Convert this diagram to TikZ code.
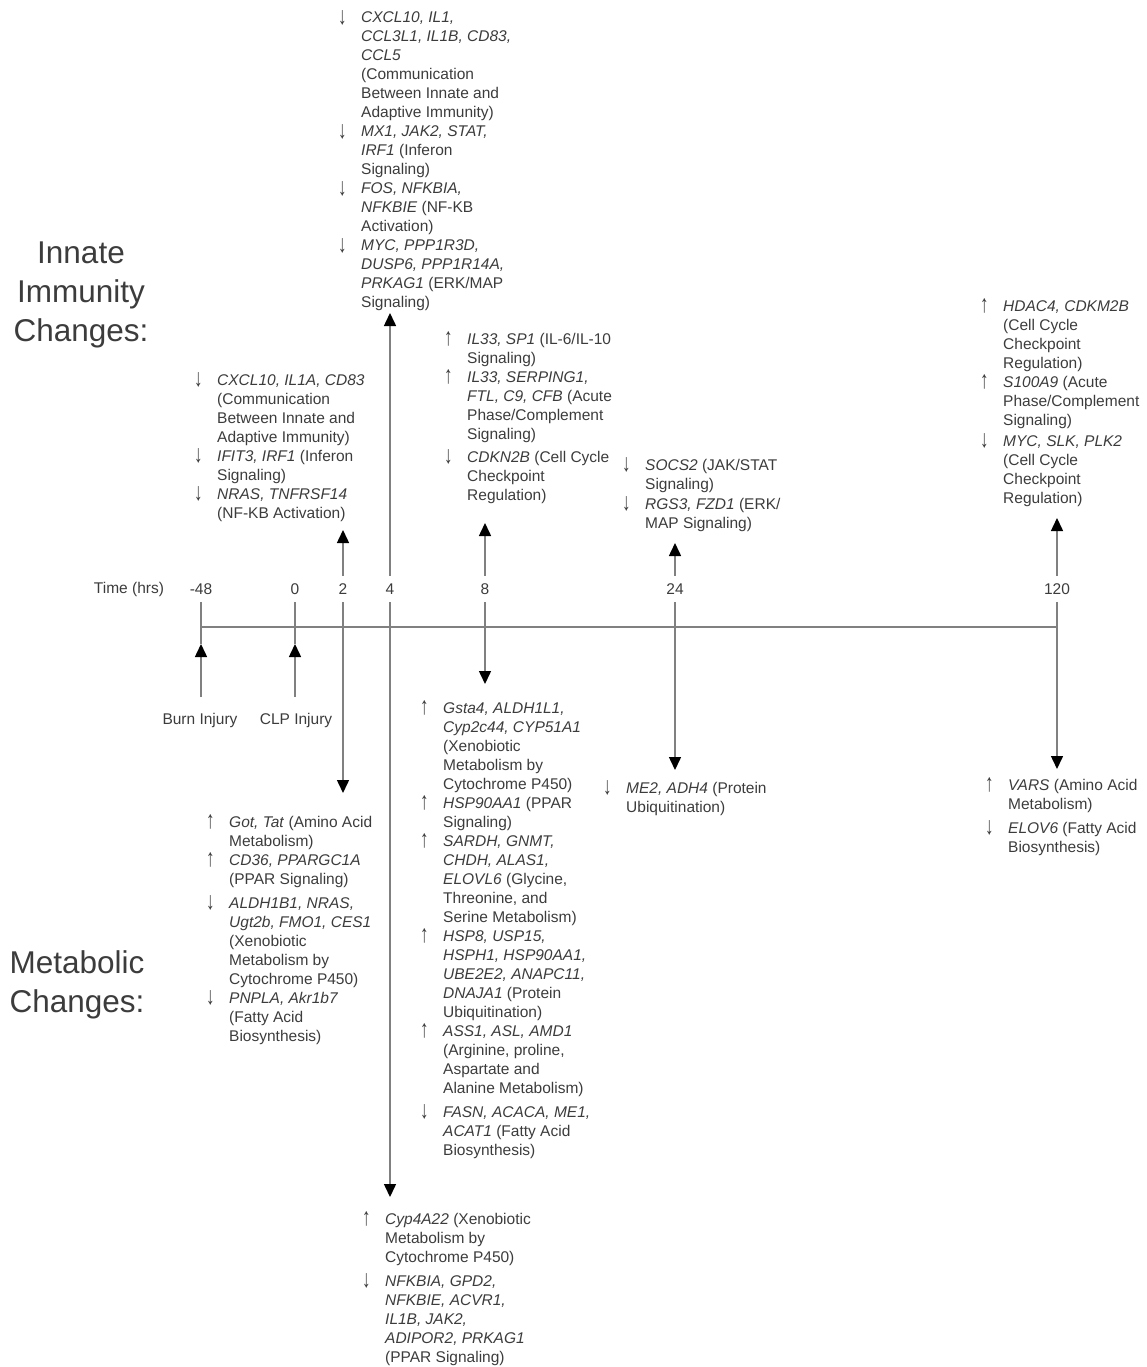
\documentclass[tikz,border=0pt]{standalone}
\usepackage{graphicx}
\usepackage{fontspec}
\setmainfont{Liberation Sans}
\usetikzlibrary{arrows.meta}
\definecolor{txt}{RGB}{60,60,60}
\definecolor{ln}{RGB}{128,128,128}
\newcommand\UpA{\makebox[23pt][l]{\raisebox{-1.5pt}{\scalebox{1.1}[1.6]{↑}}}}
\newcommand\DnA{\makebox[23pt][l]{\raisebox{-1.5pt}{\scalebox{1.1}[1.6]{↓}}}}
\newcommand\Ind{\hspace*{23pt}}
\newcommand\blk[1]{\parbox[t]{320pt}{\fontsize{15.5}{19}\selectfont\raggedright #1}}
\newcommand\bigblk[1]{\parbox[t]{200pt}{\fontsize{31.5}{39}\selectfont\centering #1}}
\begin{document}
\begin{tikzpicture}[x=1pt,y=-1pt,
  lbl/.style={inner sep=0pt, anchor=base west, text=txt},
  tk/.style={inner sep=0pt, minimum height=26pt, text=txt, font=\fontsize{15.5}{19}\selectfont},
  vline/.style={draw=ln, line width=1.5pt},
  arr/.style={vline, -{Triangle[width=12pt,length=13pt,color=black,fill=black]}},
  big/.style={inner sep=0pt, anchor=base, text=txt}
]
\useasboundingbox (0,0) rectangle (1146,1367);

% big labels
\node[big] (innate) at (81,263) {\bigblk{Innate\\Immunity\\Changes:}};
\node[big] (metab) at (77,973) {\bigblk{Metabolic\\Changes:}};

% timeline
\coordinate (tlA) at (201,627);
\coordinate (tlB) at (1057,627);
\draw[vline] (tlA) -- (tlB);

% tick labels
\node[tk] (time) at (129,589) {Time (hrs)};
\node[tk] (tm48) at (201,589) {-48};
\node[tk] (t0) at (295,589) {0};
\node[tk] (t2) at (343,589) {2};
\node[tk] (t4) at (390,589) {4};
\node[tk] (t8) at (485,589) {8};
\node[tk] (t24) at (675,589) {24};
\node[tk] (t120) at (1057,589) {120};

% injury labels
\node[tk] (burn) at (200,720) {Burn Injury};
\node[tk] (clp) at (296,720) {CLP Injury};

% arrow end coordinates
\coordinate (u2) at (343,530);
\coordinate (d2) at (343,793);
\coordinate (u4) at (390,313);
\coordinate (d4) at (390,1197);
\coordinate (u8) at (485,523);
\coordinate (d8) at (485,684);
\coordinate (u24) at (675,543);
\coordinate (d24) at (675,770);
\coordinate (u120) at (1057,518);
\coordinate (d120) at (1057,769);
\coordinate (b48) at (201,644);
\coordinate (bb48) at (201,697);
\coordinate (b0) at (295,644);
\coordinate (bb0) at (295,697);

% connectors
\draw[vline] (tm48.south) -- (b48);
\draw[arr] (bb48) -- (b48);
\draw[vline] (t0.south) -- (b0);
\draw[arr] (bb0) -- (b0);
\draw[arr] (t2.north) -- (u2);
\draw[arr] (t2.south) -- (d2);
\draw[arr] (t4.north) -- (u4);
\draw[arr] (t4.south) -- (d4);
\draw[arr] (t8.north) -- (u8);
\draw[arr] (t8.south) -- (d8);
\draw[arr] (t24.north) -- (u24);
\draw[arr] (t24.south) -- (d24);
\draw[arr] (t120.north) -- (u120);
\draw[arr] (t120.south) -- (d120);

% innate blocks
\node[lbl] (bA) at (338,23) {\blk{%
\DnA\textit{CXCL10, IL1,}\\
\Ind\textit{CCL3L1, IL1B, CD83,}\\
\Ind\textit{CCL5}\\
\Ind(Communication\\
\Ind Between Innate and\\
\Ind Adaptive Immunity)\\
\DnA\textit{MX1, JAK2, STAT,}\\
\Ind\textit{IRF1} (Inferon\\
\Ind Signaling)\\
\DnA\textit{FOS, NFKBIA,}\\
\Ind\textit{NFKBIE} (NF-KB\\
\Ind Activation)\\
\DnA\textit{MYC, PPP1R3D,}\\
\Ind\textit{DUSP6, PPP1R14A,}\\
\Ind\textit{PRKAG1} (ERK/MAP\\
\Ind Signaling)}};

\node[lbl] (bB) at (194,385) {\blk{%
\DnA\textit{CXCL10, IL1A, CD83}\\
\Ind(Communication\\
\Ind Between Innate and\\
\Ind Adaptive Immunity)\\
\DnA\textit{IFIT3, IRF1} (Inferon\\
\Ind Signaling)\\
\DnA\textit{NRAS, TNFRSF14}\\
\Ind(NF-KB Activation)}};

\node[lbl] (bC) at (444,344) {\blk{%
\UpA\textit{IL33, SP1} (IL-6/IL-10\\
\Ind Signaling)\\
\UpA\textit{IL33, SERPING1,}\\
\Ind\textit{FTL, C9, CFB} (Acute\\
\Ind Phase/Complement\\
\Ind Signaling)\\[4pt]
\DnA\textit{CDKN2B} (Cell Cycle\\
\Ind Checkpoint\\
\Ind Regulation)}};

\node[lbl] (bD) at (622,470) {\blk{%
\DnA\textit{SOCS2} (JAK/STAT\\
\Ind Signaling)\\[1pt]
\DnA\textit{RGS3, FZD1} (ERK/\\
\Ind MAP Signaling)}};

\node[lbl] (bE) at (980,311) {\blk{%
\UpA\textit{HDAC4, CDKM2B}\\
\Ind(Cell Cycle\\
\Ind Checkpoint\\
\Ind Regulation)\\
\UpA\textit{S100A9} (Acute\\
\Ind Phase/Complement\\
\Ind Signaling)\\[2pt]
\DnA\textit{MYC, SLK, PLK2}\\
\Ind(Cell Cycle\\
\Ind Checkpoint\\
\Ind Regulation)}};

% metabolic blocks
\node[lbl] (bF) at (206,827) {\blk{%
\UpA\textit{Got, Tat} (Amino Acid\\
\Ind Metabolism)\\
\UpA\textit{CD36, PPARGC1A}\\
\Ind(PPAR Signaling)\\[5pt]
\DnA\textit{ALDH1B1, NRAS,}\\
\Ind\textit{Ugt2b, FMO1, CES1}\\
\Ind(Xenobiotic\\
\Ind Metabolism by\\
\Ind Cytochrome P450)\\
\DnA\textit{PNPLA, Akr1b7}\\
\Ind(Fatty Acid\\
\Ind Biosynthesis)}};

\node[lbl] (bG) at (420,713) {\blk{%
\UpA\textit{Gsta4, ALDH1L1,}\\
\Ind\textit{Cyp2c44, CYP51A1}\\
\Ind(Xenobiotic\\
\Ind Metabolism by\\
\Ind Cytochrome P450)\\
\UpA\textit{HSP90AA1} (PPAR\\
\Ind Signaling)\\
\UpA\textit{SARDH, GNMT,}\\
\Ind\textit{CHDH, ALAS1,}\\
\Ind\textit{ELOVL6} (Glycine,\\
\Ind Threonine, and\\
\Ind Serine Metabolism)\\
\UpA\textit{HSP8, USP15,}\\
\Ind\textit{HSPH1, HSP90AA1,}\\
\Ind\textit{UBE2E2, ANAPC11,}\\
\Ind\textit{DNAJA1} (Protein\\
\Ind Ubiquitination)\\
\UpA\textit{ASS1, ASL, AMD1}\\
\Ind(Arginine, proline,\\
\Ind Aspartate and\\
\Ind Alanine Metabolism)\\[5pt]
\DnA\textit{FASN, ACACA, ME1,}\\
\Ind\textit{ACAT1} (Fatty Acid\\
\Ind Biosynthesis)}};

\node[lbl] (bH) at (362,1224) {\blk{%
\UpA\textit{Cyp4A22} (Xenobiotic\\
\Ind Metabolism by\\
\Ind Cytochrome P450)\\[5pt]
\DnA\textit{NFKBIA, GPD2,}\\
\Ind\textit{NFKBIE, ACVR1,}\\
\Ind\textit{IL1B, JAK2,}\\
\Ind\textit{ADIPOR2, PRKAG1}\\
\Ind(PPAR Signaling)}};

\node[lbl] (bI) at (603,793) {\blk{%
\DnA\textit{ME2, ADH4} (Protein\\
\Ind Ubiquitination)}};

\node[lbl] (bJ) at (985,790) {\blk{%
\UpA\textit{VARS} (Amino Acid\\
\Ind Metabolism)\\[5pt]
\DnA\textit{ELOV6} (Fatty Acid\\
\Ind Biosynthesis)}};
\end{tikzpicture}
\end{document}
